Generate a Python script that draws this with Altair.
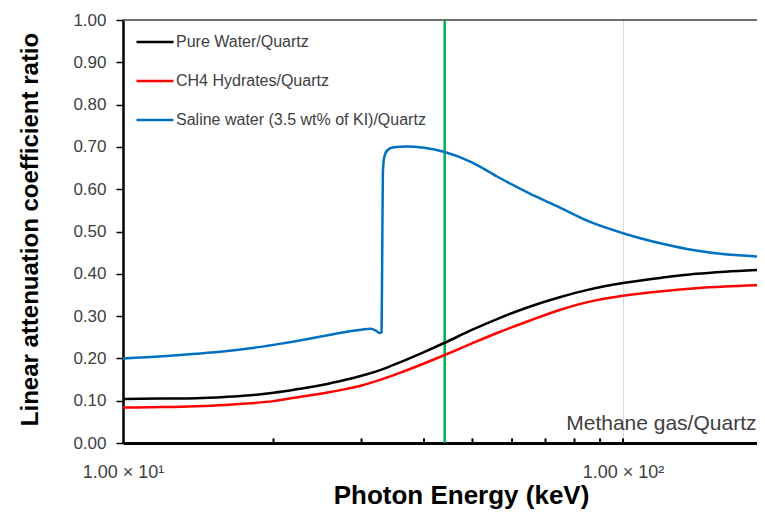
import altair as alt
import pandas as pd

# ---------------- data ----------------
series_names = ["Pure Water/Quartz", "CH4 Hydrates/Quartz", "Saline water (3.5 wt% of KI)/Quartz"]
series_colors = ["#000000", "#ff0000", "#0070c0"]

water_energy = [10, 12, 14, 16, 18, 20, 22, 25, 28, 30, 33, 36, 40, 44, 50, 56, 65, 75, 85, 100, 120, 140, 160, 186]
water_ratio = [0.104, 0.105, 0.106, 0.109, 0.113, 0.119, 0.126, 0.137, 0.150, 0.159, 0.174, 0.192, 0.215, 0.237,
               0.268, 0.293, 0.322, 0.345, 0.362, 0.378, 0.391, 0.400, 0.405, 0.409]

hydrate_energy = [10, 12, 14, 16, 18, 20, 22, 25, 28, 30, 33, 36, 40, 44, 50, 56, 65, 75, 85, 100, 120, 140, 160, 186]
hydrate_ratio = [0.084, 0.085, 0.087, 0.090, 0.094, 0.099, 0.107, 0.117, 0.128, 0.136, 0.151, 0.167, 0.188, 0.208,
                 0.236, 0.260, 0.289, 0.315, 0.333, 0.348, 0.359, 0.366, 0.370, 0.373]

saline_energy = [10, 12, 14, 16, 18, 20, 22, 24, 26, 28, 30, 31.3, 32.0, 32.6, 32.9, 33.0, 33.1, 33.3, 33.8, 34.8,
                 37, 40, 44, 50, 56, 65, 75, 85, 100, 120, 140, 160, 186]
saline_ratio = [0.200, 0.205, 0.211, 0.217, 0.224, 0.232, 0.240, 0.248, 0.256, 0.263, 0.268, 0.270, 0.266, 0.260,
                0.262, 0.450, 0.640, 0.675, 0.692, 0.699, 0.701, 0.698, 0.688, 0.663, 0.630, 0.590, 0.556, 0.525,
                0.496, 0.471, 0.455, 0.446, 0.441]

marker_energy = [44]                      # green vertical line
minor_tick_energy = [20, 30, 40, 50, 60, 70, 80, 90, 100]
y_ticks = [0.0, 0.1, 0.2, 0.3, 0.4, 0.5, 0.6, 0.7, 0.8, 0.9, 1.0]
x_tick_values = [10, 100]
x_tick_labels = ["1.00 × 10¹", "1.00 × 10²"]
annotation_text = ["Methane gas/Quartz"]
annotation_energy = [77]
annotation_ratio = [0.031]

x_domain = [10, 185.4]
y_domain = [0, 1]

# ---------------- tables ----------------
rows = []
for name, es, vs in zip(series_names, [water_energy, hydrate_energy, saline_energy],
                        [water_ratio, hydrate_ratio, saline_ratio]):
    for e, v in zip(es, vs):
        rows.append({"series": name, "energy": e, "ratio": v})
df = pd.DataFrame(rows)

FONT = "Liberation Sans"
xscale = alt.Scale(type="log", domain=x_domain, nice=False)
yscale = alt.Scale(domain=y_domain, nice=False)

label_expr = "datum.value == 10 ? '%s' : '%s'" % (x_tick_labels[0], x_tick_labels[1])

xaxis = alt.Axis(values=x_tick_values, labelExpr=label_expr, grid=True, gridColor="#d9d9d9", gridWidth=1,
                 ticks=False, labelPadding=20, labelFont=FONT, labelFontSize=18, labelColor="#404040",
                 labelFlush=False, labelOverlap=False, domainColor="black", domainWidth=3,
                 title="Photon Energy (keV)", titleFont=FONT, titleFontSize=26, titleFontWeight="bold",
                 titleColor="black", titleX=338, titleY=60, titleBaseline="alphabetic", titleAlign="center")

yaxis = alt.Axis(values=y_ticks, format=".2f", grid=False, tickSize=7, tickColor="black", tickWidth=1.5,
                 labelPadding=10, labelFont=FONT, labelFontSize=17, labelColor="#404040",
                 domainColor="black", domainWidth=2.5,
                 title="Linear attenuation coefficient ratio", titleFont=FONT, titleFontSize=24,
                 titleFontWeight="bold", titleColor="black", titleAngle=-90, titleAlign="center",
                 titleBaseline="alphabetic", titleX=-86, titleY=209)

legend = alt.Legend(orient="none", legendX=12, legendY=2, title=None, symbolType="stroke", symbolSize=1369,
                    symbolStrokeWidth=2.5, labelFont=FONT, labelFontSize=16, labelColor="#404040",
                    labelOffset=1, rowPadding=11, padding=0, labelLimit=400)

X = lambda f: alt.X(f, scale=xscale, axis=xaxis)
Y = lambda f: alt.Y(f, scale=yscale, axis=yaxis)

top_border = alt.Chart(pd.DataFrame({"v": [y_domain[1]]})).mark_rule(color="#404040", strokeWidth=1.5).encode(
    y=Y("v:Q"))

green = alt.Chart(pd.DataFrame({"e": marker_energy})).mark_rule(color="#00b050", strokeWidth=2.5).encode(
    x=X("e:Q"))

lines = alt.Chart(df).mark_line(interpolate="monotone", strokeWidth=2.5, clip=True).encode(
    x=X("energy:Q"),
    y=Y("ratio:Q"),
    color=alt.Color("series:N", scale=alt.Scale(domain=series_names, range=series_colors),
                    sort=series_names, legend=legend),
)

ticks = alt.Chart(pd.DataFrame({"e": minor_tick_energy, "y0": [0.0] * len(minor_tick_energy),
                                "y1": [0.011] * len(minor_tick_energy)})).mark_rule(
    color="black", strokeWidth=2).encode(
    x=X("e:Q"),
    y=Y("y0:Q"),
    y2="y1:Q")

annot = alt.Chart(pd.DataFrame({"e": annotation_energy, "v": annotation_ratio, "t": annotation_text})).mark_text(
    align="left", baseline="alphabetic", font=FONT, fontSize=21, color="#404040").encode(
    x=X("e:Q"),
    y=Y("v:Q"),
    text="t:N")

chart = alt.layer(top_border, green, lines, ticks, annot).properties(
    width=634, height=423,
    autosize=alt.AutoSizeParams(type="none"),
    padding={"left": 115, "top": 12, "right": 0, "bottom": 67},
    background="white",
).configure_view(stroke=None)

chart.save("out.html", embed_options={"renderer": "svg", "actions": False})
